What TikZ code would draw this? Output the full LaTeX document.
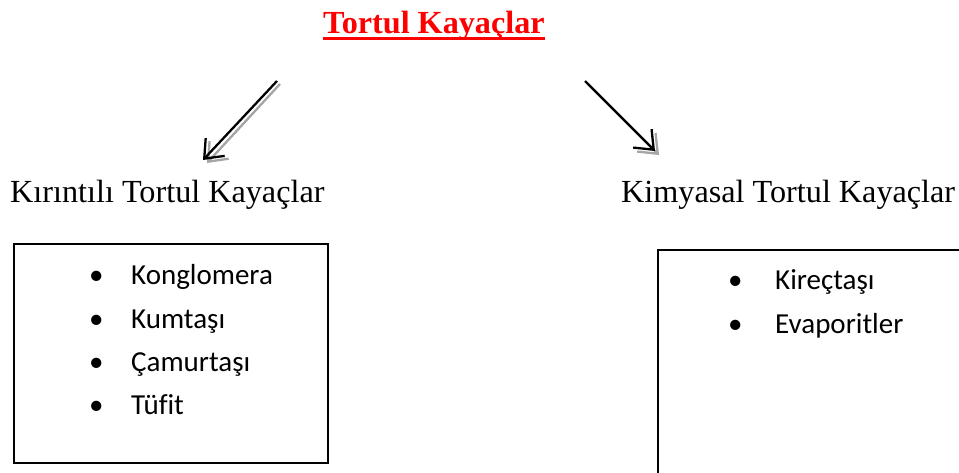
\documentclass[tikz,border=0pt]{standalone}
\usepackage{fontspec}
\setmainfont{Liberation Serif}
\newfontfamily\listfont[Ligatures=CommonOff]{Carlito}
\usetikzlibrary{arrows.meta}
\definecolor{titlered}{RGB}{255,0,0}
\definecolor{shade}{RGB}{165,165,165}
\tikzset{
  heading/.style={anchor=base west, inner sep=0pt, font=\fontsize{32.2}{36}\selectfont},
  titletext/.style={anchor=base west, inner sep=0pt, text=titlered, font=\fontsize{32.2}{36}\selectfont\bfseries},
  item/.style={anchor=base west, inner sep=0pt, font=\listfont\fontsize{29}{32}\selectfont},
  dot/.style={anchor=base west, inner sep=0pt, font=\listfont\fontsize{29}{32}\selectfont},
  panel/.style={draw=black, line width=1.6pt},
  tip/.style={-{Straight Barb[length=16pt, width=26pt, line width=2.3pt]}},
  link/.style={draw=black, line width=2.3pt, tip},
  linkshadow/.style={draw=shade, line width=2.3pt, tip}
}
\begin{document}
\begin{tikzpicture}[x=1pt, y=-1pt]
\useasboundingbox (0,0) rectangle (959,473);
\clip (0,0) rectangle (959,473);

% title with its red underline
\node[titletext] (title) at (323,34) {Tortul Kayaçlar};
\draw[titlered, line width=3pt] ([yshift=-4.5pt]title.base west) -- ([yshift=-4.5pt]title.base east);

% the two branches
\node[heading] (clastic) at (10,203) {Kırıntılı Tortul Kayaçlar};
\node[heading] (chemical) at (621,203) {Kimyasal Tortul Kayaçlar};

% arrow end points
\coordinate (lstart) at (277,81);
\coordinate (lend) at (203,160);
\coordinate (rstart) at (585,81);
\coordinate (rend) at (655,151);
\coordinate (lstartS) at (280,84);
\coordinate (lendS) at (207,163);
\coordinate (rstartS) at (588,84);
\coordinate (rendS) at (659,155);

\draw[linkshadow] (lstartS) -- (lendS);
\draw[link] (lstart) -- (lend);
\draw[linkshadow] (rstartS) -- (rendS);
\draw[link] (rstart) -- (rend);

% boxes
\node[panel, anchor=north west, minimum width=314pt, minimum height=219pt, inner sep=0pt] (lbox) at (13,243) {};
\node[panel, anchor=north west, minimum width=302pt, minimum height=260pt, inner sep=0pt] (rbox) at (657,249) {};

% left list
\node[dot] (b1) at (89,284) {•};
\node[item] (i1) at (131,284) {Konglomera};
\node[dot] (b2) at (89,328) {•};
\node[item] (i2) at (131,328) {Kumtaşı};
\node[dot] (b3) at (89,371) {•};
\node[item] (i3) at (131,371) {Çamurtaşı};
\node[dot] (b4) at (89,414) {•};
\node[item] (i4) at (131,414) {Tüf\kern0pt it};

% right list
\node[dot] (c1) at (728,290) {•};
\node[item] (j1) at (775,290) {Kireçtaşı};
\node[dot] (c2) at (728,333) {•};
\node[item] (j2) at (775,333) {Evaporitler};
\end{tikzpicture}
\end{document}
